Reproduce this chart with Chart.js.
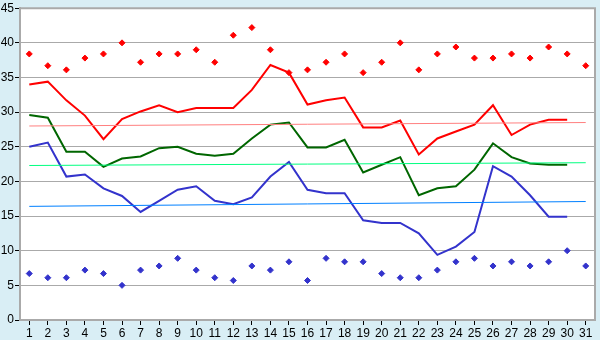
<!DOCTYPE html>
<html>
<head>
<meta charset="utf-8">
<script src="https://cdn.jsdelivr.net/npm/chart.js@4"></script>
<style>
  html, body { margin: 0; padding: 0; background: #d9eef5; }
  #wrap { width: 600px; height: 340px; position: relative; }
</style>
</head>
<body>
<div id="wrap"><canvas id="chart"></canvas></div>
<script>
var days = [];
for (var d = 1; d <= 31; d++) days.push(String(d));

// daily absolute max / min (diamonds)
var absMax = [38.4, 36.7, 36.1, 37.8, 38.4, 40.0, 37.2, 38.4, 38.4, 39.0, 37.2, 41.1, 42.2, 39.0, 35.7,
              36.1, 37.2, 38.4, 35.7, 37.2, 40.0, 36.1, 38.4, 39.4, 37.8, 37.8, 38.4, 37.8, 39.4, 38.4, 36.7];
var absMin = [6.7, 6.1, 6.1, 7.2, 6.7, 5.0, 7.2, 7.8, 8.9, 7.2, 6.1, 5.7, 7.8, 7.2, 8.4,
              5.7, 8.9, 8.4, 8.4, 6.7, 6.1, 6.1, 7.2, 8.4, 8.9, 7.8, 8.4, 7.8, 8.4, 10.0, 7.8];

// the year's daily max / mean / min (lines, days 1-30)
var dayMax = [34.0, 34.4, 31.7, 29.5, 26.1, 29.0, 30.1, 31.0, 30.0, 30.6, 30.6, 30.6, 33.2, 36.8, 35.7,
              31.1, 31.7, 32.1, 27.8, 27.8, 28.8, 23.9, 26.2, 27.2, 28.2, 31.0, 26.7, 28.2, 28.9, 28.9];
var dayMean = [29.6, 29.2, 24.3, 24.3, 22.1, 23.3, 23.6, 24.8, 25.0, 24.0, 23.7, 24.0, 26.2, 28.2, 28.5,
               24.9, 24.9, 26.0, 21.3, 22.4, 23.5, 18.0, 19.0, 19.3, 21.7, 25.5, 23.5, 22.6, 22.4, 22.4];
var dayMin = [25.0, 25.6, 20.7, 21.0, 19.0, 17.9, 15.6, 17.2, 18.8, 19.3, 17.2, 16.7, 17.7, 20.7, 22.8,
              18.8, 18.3, 18.3, 14.4, 14.0, 14.0, 12.5, 9.4, 10.6, 12.7, 22.2, 20.7, 18.0, 14.9, 14.9];

// normals (trend lines), value at day 1 and day 31
var trendMax = [28.0, 28.5];
var trendMean = [22.3, 22.7];
var trendMin = [16.4, 17.1];

var yTicks = [0, 5, 10, 15, 20, 25, 30, 35, 40, 45];

function ends(pair) {
  return [{ x: days[0], y: pair[0] }, { x: days[days.length - 1], y: pair[1] }];
}

function lineSet(data, color, width) {
  return {
    data: data,
    borderColor: color,
    backgroundColor: color,
    borderWidth: width,
    pointRadius: 0,
    tension: 0,
    fill: false
  };
}

function dotSet(data, color) {
  return {
    data: data,
    showLine: false,
    borderColor: color,
    backgroundColor: color,
    pointStyle: 'rectRot',
    pointRadius: 3,
    borderWidth: 1
  };
}

var frame = {
  id: 'frame',
  beforeDraw: function(chart) {
    var c = chart.ctx, a = chart.chartArea;
    c.save();
    c.fillStyle = '#d9eef5';
    c.fillRect(0, 0, chart.width, chart.height);
    c.fillStyle = '#ffffff';
    c.fillRect(a.left, a.top, a.right - a.left, a.bottom - a.top);
    c.restore();
  },
  afterDraw: function(chart) {
    var c = chart.ctx, a = chart.chartArea;
    c.save();
    c.strokeStyle = '#aaaaaa';
    c.lineWidth = 2;
    c.beginPath();
    c.moveTo(a.left, a.top);
    c.lineTo(a.right, a.top);
    c.lineTo(a.right, a.bottom);
    c.stroke();
    c.restore();
  }
};

var ctx = document.getElementById('chart');
new Chart(ctx, {
  type: 'line',
  data: {
    labels: days,
    datasets: [
      lineSet(ends(trendMax), '#ff8080', 1),
      lineSet(ends(trendMean), '#00ff80', 1),
      lineSet(ends(trendMin), '#0080ff', 1),
      lineSet(dayMax, '#ff0000', 2),
      lineSet(dayMean, '#006600', 2),
      lineSet(dayMin, '#3333cc', 2),
      dotSet(absMax, '#ff0000'),
      dotSet(absMin, '#3333cc')
    ]
  },
  options: {
    responsive: true,
    maintainAspectRatio: false,
    animation: false,
    layout: { padding: { top: 5, right: 5, bottom: 0, left: 0 } },
    plugins: { legend: { display: false }, tooltip: { enabled: false } },
    scales: {
      x: {
        type: 'category',
        offset: true,
        grid: { display: true, drawOnChartArea: false, drawTicks: true, tickLength: 5, color: '#000000', offset: false },
        border: { color: '#aaaaaa', width: 2 },
        ticks: { color: '#000000', font: { family: 'Liberation Sans', size: 12 }, padding: 1, maxRotation: 0, autoSkip: false },
        afterFit: function(scale) { scale.height = 20; }
      },
      y: {
        min: 0,
        max: 45,
        afterBuildTicks: function(scale) {
          scale.ticks = yTicks.map(function(v) { return { value: v }; });
        },
        grid: { color: '#aaaaaa', lineWidth: 1, tickLength: 5, tickColor: '#000000' },
        border: { color: '#aaaaaa', width: 2 },
        ticks: { color: '#000000', font: { family: 'Liberation Sans', size: 12 }, padding: 1 },
        afterFit: function(scale) { scale.width = 20; }
      }
    }
  },
  plugins: [frame]
});
</script>
</body>
</html>
